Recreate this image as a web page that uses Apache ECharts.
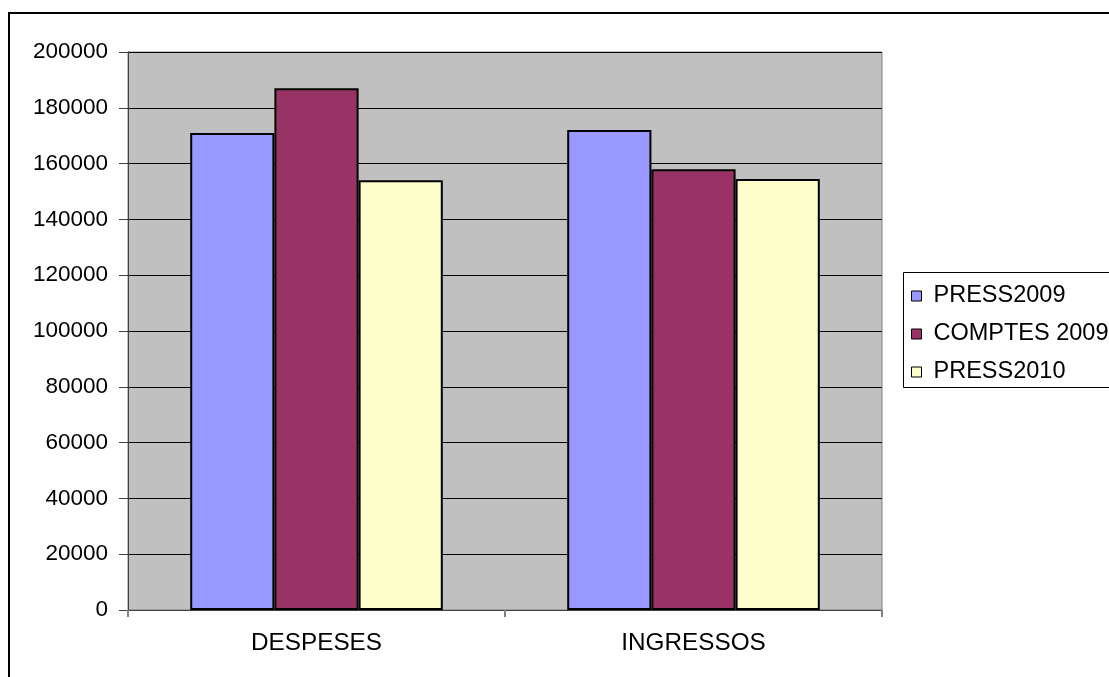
<!DOCTYPE html>
<html>
<head>
<meta charset="utf-8">
<script src="https://cdn.jsdelivr.net/npm/echarts@6/dist/echarts.min.js"></script>
<style>
html,body{margin:0;padding:0;background:#fff;}
#chart{width:1109px;height:677px;}
</style>
</head>
<body>
<div id="chart"></div>
<script>
const categories = ['DESPESES', 'INGRESSOS'];
const seriesNames = ['PRESS2009', 'COMPTES 2009', 'PRESS2010'];
const press2009 = [171000, 172000];
const comptes2009 = [187000, 158000];
const press2010 = [154000, 154500];
const yTicks = [0, 20000, 40000, 60000, 80000, 100000, 120000, 140000, 160000, 180000, 200000];

const colors = ['#9999FF', '#993366', '#FFFFCC'];
const FONT = '"Liberation Sans", Arial, sans-serif';

const chart = echarts.init(document.getElementById('chart'));
const dataSets = [press2009, comptes2009, press2010];

chart.setOption({
  animation: false,
  backgroundColor: '#ffffff',
  textStyle: { fontFamily: FONT, color: '#000' },
  graphic: [
    { type: 'rect', z: 0,
      shape: { x: 9, y: 13, width: 1200, height: 720 },
      style: { fill: 'none', stroke: '#000', lineWidth: 2 } },
    { type: 'rect', z: 0,
      shape: { x: 903.5, y: 272.5, width: 260, height: 115 },
      style: { fill: '#fff', stroke: '#000', lineWidth: 1 } }
  ],
  grid: {
    left: 128, right: 227, top: 52, bottom: 67,
    show: true, backgroundColor: '#C0C0C0', borderColor: '#808080', borderWidth: 1
  },
  legend: {
    orient: 'vertical',
    left: 911, top: 284,
    padding: 0,
    itemWidth: 10, itemHeight: 10,
    itemGap: 14,
    icon: 'rect',
    z: 5,
    textStyle: { fontFamily: FONT, fontSize: 23.5, color: '#000', lineHeight: 24, padding: [0, 0, 0, 7] },
    data: seriesNames.map(n => ({ name: n, itemStyle: { borderColor: '#000', borderWidth: 1 } }))
  },
  xAxis: {
    type: 'category',
    data: categories,
    axisLine: { lineStyle: { color: '#404040', width: 1 } },
    axisTick: { show: true, length: 7, lineStyle: { color: '#808080', width: 2 }, alignWithLabel: false },
    axisLabel: { fontFamily: FONT, fontSize: 24.3, color: '#000', margin: 21 },
    splitLine: { show: false }
  },
  yAxis: {
    type: 'value',
    min: yTicks[0], max: yTicks[yTicks.length - 1], interval: yTicks[1] - yTicks[0],
    axisLine: { show: true, lineStyle: { color: '#404040', width: 1 } },
    axisTick: { show: true, length: 9, lineStyle: { color: '#404040', width: 1 } },
    axisLabel: { fontFamily: FONT, fontSize: 22.5, color: '#000', margin: 20, formatter: v => String(v) },
    splitLine: { show: true, lineStyle: { color: '#000', width: 1 } }
  },
  series: seriesNames.map((name, i) => ({
    name: name,
    type: 'bar',
    data: dataSets[i],
    barGap: '0%',
    barCategoryGap: '33%',
    itemStyle: { color: colors[i], borderColor: '#000', borderWidth: 2 }
  }))
});
</script>
</body>
</html>
